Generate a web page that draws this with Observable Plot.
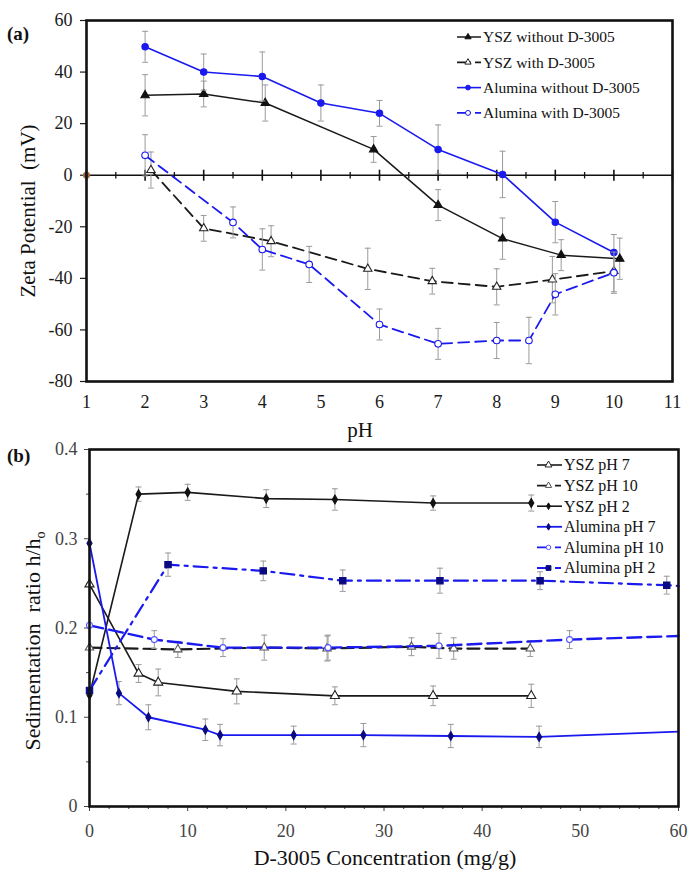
<!DOCTYPE html>
<html>
<head>
<meta charset="utf-8">
<script src="https://cdn.jsdelivr.net/npm/d3@7"></script>
<script src="https://cdn.jsdelivr.net/npm/@observablehq/plot@0.6"></script>
<style>
  html, body { margin: 0; padding: 0; background: #fff; }
  body { width: 694px; height: 882px; position: relative; overflow: hidden; font-family: "Liberation Serif", "Times New Roman", serif; }
  #chartA { position: absolute; left: 0; top: 0; }
  #chartB { position: absolute; left: 0; top: 445px; }
  #overlay { position: absolute; left: 0; top: 0; pointer-events: none; }
</style>
</head>
<body>
<div id="chartA"></div>
<div id="chartB"></div>
<svg id="overlay" width="694" height="882"></svg>
<script>
// ---------- Panel (a): zeta potential vs pH ----------
const pHTicks = [1, 2, 3, 4, 5, 6, 7, 8, 9, 10, 11];
const pHMinorTicks = [1.5, 2.5, 3.5, 4.5, 5.5, 6.5, 7.5, 8.5, 9.5, 10.5];
const zetaTicks = [-80, -60, -40, -20, 0, 20, 40, 60];

const yszNoPH   = [2, 3, 4.05, 5.9, 7, 8.1, 9.1, 10.1];
const yszNoZeta = [31, 31.5, 28, 10, -11.6, -24.6, -31, -32.4];
const yszNoErr  = [8, 5, 7, 5, 6, 8, 6, 8];

const yszWithPH   = [2.1, 3, 4.15, 5.8, 6.9, 8, 8.95, 10];
const yszWithZeta = [2, -20.6, -25.6, -36.3, -41.1, -43.3, -40.5, -37.2];
const yszWithErr  = [7, 5, 6, 8, 5, 7, 9, 8];

const aluNoPH   = [2, 3, 4, 5, 6, 7, 8.1, 9, 10];
const aluNoZeta = [49.8, 40, 38.3, 28, 24, 10, 0.3, -18.2, -30];
const aluNoErr  = [6, 7, 9.5, 7, 5, 9.5, 9, 8, 7];

const aluWithPH   = [2, 3.5, 4, 4.8, 6, 7, 8, 8.55, 9, 10];
const aluWithZeta = [7.7, -18.3, -28.8, -34.6, -57.9, -65.4, -64.1, -64.1, -46.2, -37.8];
const aluWithErr  = [8, 6, 8, 7, 6, 6, 7, 9, 8, 8];

const originPH = [1];
const originZeta = [0];

const legendA = ["YSZ without D-3005", "YSZ with D-3005", "Alumina without D-3005", "Alumina with D-3005"];

// ---------- Panel (b): sedimentation ratio vs D-3005 concentration ----------
const concTicks = [0, 10, 20, 30, 40, 50, 60];
const concMinorTicks = [2, 4, 6, 8, 12, 14, 16, 18, 22, 24, 26, 28, 32, 34, 36, 38, 42, 44, 46, 48, 52, 54, 56, 58];
const ratioTicks = [0, 0.1, 0.2, 0.3, 0.4];
const ratioMinorTicks = [0.05, 0.15, 0.25, 0.35];

const yszPH7Conc  = [0, 5, 7, 15, 25, 35, 45];
const yszPH7Ratio = [0.249, 0.149, 0.139, 0.129, 0.124, 0.124, 0.124];
const yszPH7Err   = [0, 0.01, 0.015, 0.014, 0.01, 0.011, 0.013];

const yszPH10Conc  = [0, 9, 17.8, 24.2, 32.8, 37.1, 44.9];
const yszPH10Ratio = [0.178, 0.176, 0.178, 0.177, 0.179, 0.177, 0.177];
const yszPH10Err   = [0, 0.009, 0.014, 0.014, 0.01, 0.012, 0.009];

const yszPH2Conc  = [0, 5, 10, 18, 25, 35, 45];
const yszPH2Ratio = [0.125, 0.35, 0.352, 0.345, 0.344, 0.34, 0.34];
const yszPH2Err   = [0, 0.008, 0.009, 0.01, 0.012, 0.008, 0.009];

const aluPH7Conc  = [0, 3, 6, 11.8, 13.3, 20.8, 27.9, 36.8, 45.8, 60];
const aluPH7Ratio = [0.295, 0.127, 0.1, 0.086, 0.08, 0.08, 0.08, 0.079, 0.078, 0.084];
const aluPH7Err   = [0, 0.013, 0.014, 0.012, 0.012, 0.01, 0.013, 0.013, 0.012, 0];

const aluPH10Conc  = [0, 6.6, 13.6, 24.3, 35.6, 48.9, 60];
const aluPH10Ratio = [0.203, 0.187, 0.178, 0.178, 0.18, 0.187, 0.191];
const aluPH10Err   = [0, 0.01, 0.01, 0.014, 0.014, 0.01, 0];

const aluPH2Conc  = [0, 8, 17.7, 25.8, 35.7, 45.9, 58.8, 60];
const aluPH2Ratio = [0.13, 0.271, 0.264, 0.253, 0.253, 0.253, 0.248, 0.247];
const aluPH2Err   = [0, 0.013, 0.011, 0.012, 0.014, 0.01, 0.01, 0];

const legendB = ["YSZ pH 7", "YSZ pH 10", "YSZ pH 2", "Alumina pH 7", "Alumina pH 10", "Alumina pH 2"];

// ---------- helpers ----------
const table = (xs, ys, es) => xs.map((x, i) => ({x, y: ys[i], e: es ? es[i] : 0}));
const hline = {draw(ctx, size) { const r = Math.sqrt(size / Math.PI); ctx.moveTo(-r, 0); ctx.lineTo(r, 0); }};
const vline = {draw(ctx, size) { const r = Math.sqrt(size / Math.PI); ctx.moveTo(0, -r); ctx.lineTo(0, r); }};
const BLUE = "#1a1aee";
const NAVY = "#0a0a80";
const ERR = "#9a9a9a";

function seriesMarks(s, xMax) {
  const withErr = s.data.filter(d => d.e > 0);
  const markerData = s.data.filter(d => xMax == null || d.x < xMax);
  return [
    Plot.ruleX(withErr, {x: "x", y1: d => d.y - d.e, y2: d => d.y + d.e, stroke: ERR, strokeWidth: 1}),
    Plot.dot(withErr, {x: "x", y: d => d.y + d.e, symbol: hline, r: 3, stroke: ERR, fill: "none", strokeWidth: 1}),
    Plot.dot(withErr, {x: "x", y: d => d.y - d.e, symbol: hline, r: 3, stroke: ERR, fill: "none", strokeWidth: 1}),
    Plot.line(s.data, {x: "x", y: "y", stroke: s.stroke, strokeWidth: s.width, strokeDasharray: s.dash || null}),
    Plot.dot(markerData, {x: "x", y: "y", symbol: s.symbol, r: s.r, fill: s.fill, stroke: s.mstroke, strokeWidth: 1.1})
  ];
}

const seriesA = [
  {data: table(yszNoPH, yszNoZeta, yszNoErr), stroke: "#1a1a1a", width: 1.5, dash: null, symbol: "triangle", r: 3.1, fill: "#111", mstroke: "#111"},
  {data: table(yszWithPH, yszWithZeta, yszWithErr), stroke: "#1a1a1a", width: 1.8, dash: "11,6", symbol: "triangle", r: 3.1, fill: "white", mstroke: "#222"},
  {data: table(aluNoPH, aluNoZeta, aluNoErr), stroke: BLUE, width: 1.6, dash: null, symbol: "circle", r: 3.2, fill: BLUE, mstroke: BLUE},
  {data: table(aluWithPH, aluWithZeta, aluWithErr), stroke: BLUE, width: 1.8, dash: "11,6", symbol: "circle", r: 3.3, fill: "white", mstroke: BLUE}
];

const seriesB = [
  {data: table(yszPH7Conc, yszPH7Ratio, yszPH7Err), stroke: "#1a1a1a", width: 1.6, dash: null, symbol: "triangle", r: 3.4, fill: "white", mstroke: "#222"},
  {data: table(yszPH10Conc, yszPH10Ratio, yszPH10Err), stroke: "#1a1a1a", width: 2.2, dash: "12,6", symbol: "triangle", r: 3.1, fill: "white", mstroke: "#555"},
  {data: table(yszPH2Conc, yszPH2Ratio, yszPH2Err), stroke: "#1a1a1a", width: 1.6, dash: null, symbol: "diamond", r: 2.7, fill: "#111", mstroke: "#111"},
  {data: table(aluPH7Conc, aluPH7Ratio, aluPH7Err), stroke: BLUE, width: 1.8, dash: null, symbol: "diamond", r: 2.7, fill: NAVY, mstroke: NAVY},
  {data: table(aluPH10Conc, aluPH10Ratio, aluPH10Err), stroke: BLUE, width: 2.4, dash: "14,6", symbol: "circle", r: 3.0, fill: "white", mstroke: "#5a5aff"},
  {data: table(aluPH2Conc, aluPH2Ratio, aluPH2Err), stroke: BLUE, width: 2.2, dash: "14,6,3,6", symbol: "square", r: 3.6, fill: NAVY, mstroke: NAVY}
];

const FONT = '"Liberation Serif", "Times New Roman", serif';

// ---------- Plot (a) ----------
const plotA = Plot.plot({
  width: 694, height: 445,
  marginLeft: 86, marginRight: 22, marginTop: 20, marginBottom: 64,
  x: {type: "linear", domain: [1, 11]},
  y: {type: "linear", domain: [-80, 60]},
  style: {fontFamily: FONT, fontSize: "18px", color: "#1a1a1a", background: "transparent", overflow: "visible"},
  marks: [
    Plot.axisY(zetaTicks, {tickSize: 6, tickPadding: 8, tickFormat: d => String(d), label: null, strokeWidth: 1.2}),
    Plot.axisX(pHTicks, {tickSize: 0, tickPadding: 14, tickFormat: d => String(d), label: null}),
    Plot.ruleY([0], {y: d => d, stroke: "#111", strokeWidth: 1.6}),
    Plot.dot(pHTicks, {x: d => d, y: () => 0, symbol: vline, r: 5.5, stroke: "#111", fill: "none", strokeWidth: 1.6}),
    Plot.dot(pHMinorTicks, {x: d => d, y: () => 0, symbol: vline, r: 3.2, stroke: "#111", fill: "none", strokeWidth: 1.3}),
    ...seriesA.flatMap(s => seriesMarks(s, null)),
    Plot.dot(originPH.map((x, i) => ({x, y: originZeta[i]})), {x: "x", y: "y", r: 3.2, fill: "#c0504d", stroke: "#8a8a3a", strokeWidth: 1}),
    Plot.frame({stroke: "#111", strokeWidth: 2.6})
  ]
});
document.getElementById("chartA").appendChild(plotA);

// ---------- Plot (b) ----------
const plotB = Plot.plot({
  width: 694, height: 437,
  marginLeft: 89, marginRight: 16, marginTop: 4, marginBottom: 76,
  x: {type: "linear", domain: [0, 60]},
  y: {type: "linear", domain: [0, 0.4]},
  style: {fontFamily: FONT, fontSize: "18px", color: "#444", background: "transparent", overflow: "visible"},
  marks: [
    Plot.axisY(ratioTicks, {tickSize: 5, tickPadding: 7, tickFormat: d => String(d), label: null}),
    Plot.axisY(ratioMinorTicks, {tickSize: 3, tickFormat: () => "", label: null}),
    Plot.axisX(concTicks, {tickSize: 5, tickPadding: 13, tickFormat: d => String(d), label: null}),
    Plot.axisX(concMinorTicks, {tickSize: 3, tickFormat: () => "", label: null}),
    ...seriesB.flatMap(s => seriesMarks(s, 60)),
    Plot.frame({stroke: "#111", strokeWidth: 2.6})
  ]
});
document.getElementById("chartB").appendChild(plotB);

// ---------- Overlay: panel letters, axis titles, legends ----------
const ov = d3.select("#overlay").style("font-family", FONT);

ov.append("text").attr("x", 7).attr("y", 40).attr("font-size", 19).attr("font-weight", "bold").attr("fill", "#111").text("(a)");
ov.append("text").attr("x", 7).attr("y", 462).attr("font-size", 19).attr("font-weight", "bold").attr("fill", "#111").text("(b)");

ov.append("text").attr("x", 360).attr("y", 437).attr("text-anchor", "middle").attr("font-size", 21).attr("fill", "#111").text("pH");
ov.append("text").attr("transform", "translate(35,211) rotate(-90)").attr("text-anchor", "middle")
  .attr("font-size", 21).attr("fill", "#111").style("white-space", "pre").text("Zeta Potential  (mV)");

ov.append("text").attr("x", 385).attr("y", 865).attr("text-anchor", "middle").attr("font-size", 22).attr("fill", "#111").text("D-3005 Concentration (mg/g)");
const yb = ov.append("text").attr("transform", "translate(40,641) rotate(-90)").attr("text-anchor", "middle")
  .attr("font-size", 22).attr("fill", "#111").style("white-space", "pre");
yb.append("tspan").text("Sedimentation  ratio h/h");
yb.append("tspan").attr("font-size", 14).attr("dy", 5).text("o");

function symbolPath(sym, r) {
  const map = {triangle: d3.symbolTriangle, circle: d3.symbolCircle, diamond: d3.symbolDiamond, square: d3.symbolSquare};
  return d3.symbol(map[sym], Math.PI * r * r)();
}

function legend(names, series, x0, x1, xt, y0, dy, fs) {
  names.forEach((name, i) => {
    const s = series[i];
    const y = y0 + dy * i;
    ov.append("line").attr("x1", x0).attr("x2", x1).attr("y1", y).attr("y2", y)
      .attr("stroke", s.stroke).attr("stroke-width", Math.min(s.width, 1.8))
      .attr("stroke-dasharray", s.dash ? "14,4,6" : null);
    ov.append("path").attr("d", symbolPath(s.symbol, s.r * 0.75)).attr("transform", `translate(${(x0 + x1) / 2 - 1},${y})`)
      .attr("fill", s.fill).attr("stroke", s.mstroke).attr("stroke-width", 1);
    ov.append("text").attr("x", xt).attr("y", y).attr("dy", "0.34em").attr("font-size", fs).attr("fill", "#111").text(name);
  });
}
legend(legendA, seriesA, 457, 481, 483, 37, 25.3, 15.5);
legend(legendB, seriesB, 537, 562, 564, 465, 20.6, 16);
</script>
</body>
</html>
